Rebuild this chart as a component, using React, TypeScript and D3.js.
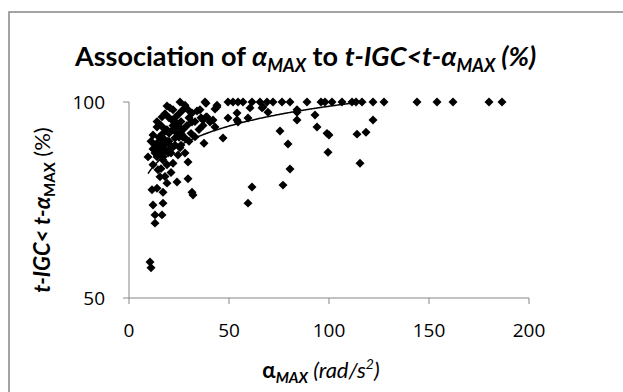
import React from "react";
import * as d3 from "d3";

// alpha_MAX (rad/s^2)
const alphaMax = [
  25.5, 38, 49.5, 52, 54.5, 57, 61.5, 65.5, 69, 72, 76.5, 80.5, 89, 96, 98, 101.5, 106.5, 111.5, 113.5, 116.5, 122, 127.5, 144, 154, 162, 180, 186.5,
  38.5, 44, 43, 28, 29.5, 31.5, 34, 28, 35.5, 20.5, 44, 60.5, 66.5, 67, 69.5, 84, 84, 39, 38.5, 42, 43, 49.5, 54, 54.5, 54, 59.5, 37, 37, 40.5, 47, 37.5,
  75.5, 79.5, 80.5, 61.5, 59.5, 77, 84, 93, 94, 99, 100, 122, 114, 118.5, 99.5, 115.5,
  16.5, 21.5, 31.5, 14, 19, 25.5, 12, 17, 23, 28, 33, 14, 20.5, 25.5, 13, 19.5, 24.5, 9.5, 17, 29.5, 22, 14.5, 15.5, 19, 24, 11.5, 31.5, 17, 32, 12, 17,
  13, 16.5, 13, 10.5, 11, 29.5,
  14, 16, 18, 20, 22, 24, 26, 27, 18, 21, 23, 15, 13, 17, 19, 21, 12, 16, 25, 29, 30, 33, 35, 36, 26, 28, 22, 19, 17, 15, 11, 14, 18, 20, 24, 27, 31, 12, 23,
  15, 18, 20, 22, 25, 27, 16, 19, 21, 23, 14, 17, 26, 30,
];

// t-IGC < t-alpha_MAX (%)
const pctBefore = [
  100, 100, 100, 100, 100, 100, 100, 100, 100, 100, 100, 100, 100, 100, 100, 100, 100, 100, 100, 100, 100, 100, 100, 100, 100, 100, 100,
  99.7, 99.2, 98.2, 99.2, 98, 97.2, 97.7, 98.5, 98, 98.5, 98.7, 98.5, 98.5, 98.7, 97.4, 97.4, 98, 96.2, 96.2, 95.4, 93.6, 95.9, 95.4, 94.9, 97.2, 95.9, 95.4, 94, 94.9, 90.8, 89.5,
  92.6, 89.3, 82.9, 78.3, 74.2, 78.8, 95.4, 96.7, 93.6, 92, 91.6, 95.4, 91.8, 92.3, 87.2, 84.4,
  96.2, 95.4, 94.9, 93.6, 92.9, 93.4, 91.6, 90.8, 90.8, 90.8, 91.1, 89, 89, 88.3, 87, 87, 86.5, 86, 85.2, 84.7, 84.4, 82.7, 80.9, 79.3, 79.6, 77.6, 77, 77, 76.3, 73.7, 74.2,
  71.2, 71.2, 69.1, 59.2, 57.7, 80.4,
  95, 94, 97, 96, 93, 92, 95, 91, 88, 87, 89, 91, 89, 86, 84, 82, 84, 83, 97, 94, 96, 95, 93, 96, 89, 87, 98, 99, 92, 88, 90, 78, 81, 90, 94, 98, 92, 88, 96,
  90, 93, 92, 94, 91, 93, 87, 90, 88, 95, 86, 89, 92, 90,
];

const xTicks = [0, 50, 100, 150, 200];
const yTicks = [50, 100];

// logarithmic trendline coefficients (y = a + b ln x)
const trendA = 65.3;
const trendB = 7.3;

const FONT = "Lato, 'Open Sans', sans-serif";
const TICK_FONT = "'Open Sans', sans-serif";
const AXIS = "#868686";

export default function App() {
  const x = d3.scaleLinear().domain([0, 200]).range([129, 529]);
  const y = d3.scaleLinear().domain([50, 100]).range([298, 102]);

  const pts = alphaMax.map((a, i) => ({ a, p: pctBefore[i] }));

  const [minA, maxA] = d3.extent(alphaMax) as [number, number];
  const trendX = d3.range(minA, maxA, 0.5).concat([maxA]);
  const trend = d3
    .line<number>()
    .x((v) => x(v))
    .y((v) => y(trendA + trendB * Math.log(v)))(trendX);

  const diamond = d3.symbol().type(d3.symbolSquare).size(40)() as string;

  return (
    <svg width={623} height={392} style={{ position: "absolute", left: 0, top: 0, background: "#fff" }} fontFamily={FONT}>
      <defs>
        <clipPath id="plot">
          <rect x={x(0)} y={y(100)} width={x(200) - x(0)} height={y(50) - y(100)} />
        </clipPath>
      </defs>
      <rect x={9} y={12} width={700} height={500} fill="#fff" stroke={AXIS} strokeWidth={1.5} />

      <text x={75} y={66} fontSize={27} fontWeight="bold" fill="#000">
        <tspan>Association of </tspan>
        <tspan fontStyle="italic">α</tspan>
        <tspan fontStyle="italic" fontSize={18} dy={6}>MAX</tspan>
        <tspan dy={-6}> to </tspan>
        <tspan fontStyle="italic">t-IGC&lt;t-α</tspan>
        <tspan fontStyle="italic" fontSize={18} dy={6}>MAX</tspan>
        <tspan fontStyle="italic" dy={-6}> (%)</tspan>
      </text>

      {/* axes */}
      <line x1={x(0)} x2={x(0)} y1={y(50)} y2={y(100)} stroke={AXIS} />
      <line x1={x(0)} x2={x(200)} y1={y(50)} y2={y(50)} stroke={AXIS} />
      {yTicks.map((t) => (
        <g key={"y" + t}>
          <line x1={x(0) - 6} x2={x(0)} y1={y(t)} y2={y(t)} stroke={AXIS} />
          <text x={x(0) - 24} y={y(t) + 7} fontSize={19} fontFamily={TICK_FONT} textAnchor="end" fill="#000">{t}</text>
        </g>
      ))}
      {xTicks.map((t) => (
        <g key={"x" + t}>
          <line x1={x(t)} x2={x(t)} y1={y(50)} y2={y(50) + 6} stroke={AXIS} />
          <text x={x(t)} y={y(50) + 39} fontSize={19} fontFamily={TICK_FONT} textAnchor="middle" fill="#000">{t}</text>
        </g>
      ))}

      {/* points */}
      {pts.map((d, i) => (
        <path key={i} d={diamond} transform={`translate(${x(d.a)},${y(d.p)}) rotate(45)`} fill="#000" />
      ))}

      <path d={trend ?? ""} fill="none" stroke="#000" strokeWidth={1.5} clipPath="url(#plot)" />

      {/* y axis title */}
      <text transform="translate(50,210) rotate(-90)" textAnchor="middle" fontSize={22} fill="#000">
        <tspan fontWeight="bold" fontStyle="italic">t-IGC&lt; t-α</tspan>
        <tspan fontWeight="bold" fontSize={15} dy={5}>MAX</tspan>
        <tspan dy={-5}> (%)</tspan>
      </text>

      {/* x axis title */}
      <text x={321} y={378} textAnchor="middle" fontSize={22} fill="#000">
        <tspan fontWeight="bold">α</tspan>
        <tspan fontWeight="bold" fontStyle="italic" fontSize={15} dy={5}>MAX</tspan>
        <tspan fontStyle="italic" dy={-5}> (rad/s</tspan>
        <tspan fontStyle="italic" fontSize={14} dy={-9}>2</tspan>
        <tspan fontStyle="italic" dy={9}>)</tspan>
      </text>
    </svg>
  );
}
